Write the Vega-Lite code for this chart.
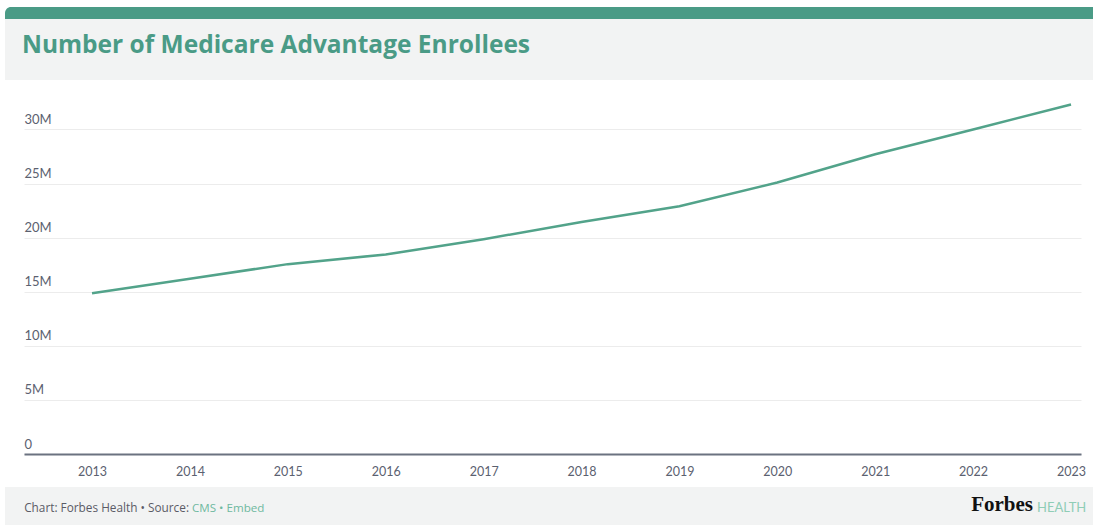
{
  "$schema": "https://vega.github.io/schema/vega-lite/v6.json",
  "background": "white",
  "padding": {"left": 5, "top": 7, "right": 0, "bottom": 0},
  "spacing": 0,
  "config": {
    "view": {"stroke": null},
    "font": "Lato",
    "title": {"anchor": "start", "frame": "group"}
  },
  "vconcat": [
    {
      "width": 1088,
      "height": 12,
      "data": {"values": [{}]},
      "mark": {"type": "rect", "color": "#4a9b86", "cornerRadiusTopLeft": 6}
    },
    {
      "width": 1088,
      "height": 61,
      "view": {"fill": "#f2f3f3"},
      "data": {"values": []},
      "mark": "point",
      "title": {
        "text": "Number of Medicare Advantage Enrollees",
        "anchor": "start",
        "dx": 17,
        "offset": -39,
        "fontSize": 24.5,
        "font": "Open Sans",
        "fontWeight": "bold",
        "color": "#4a9b86"
      }
    },
    {
      "spacing": 0,
      "hconcat": [
        {
          "width": 19,
          "height": 10,
          "data": {"values": []},
          "mark": "point"
        },
        {
          "width": 1057,
          "height": 374,
          "data": {
            "values": [
              {"year": 2013, "enrollees": 14850000},
              {"year": 2014, "enrollees": 16200000},
              {"year": 2015, "enrollees": 17550000},
              {"year": 2016, "enrollees": 18450000},
              {"year": 2017, "enrollees": 19850000},
              {"year": 2018, "enrollees": 21450000},
              {"year": 2019, "enrollees": 22900000},
              {"year": 2020, "enrollees": 25100000},
              {"year": 2021, "enrollees": 27700000},
              {"year": 2022, "enrollees": 30000000},
              {"year": 2023, "enrollees": 32300000}
            ]
          },
          "mark": {"type": "line", "color": "#52a38a", "strokeWidth": 2.5},
          "encoding": {
            "x": {
              "field": "year",
              "type": "quantitative",
              "scale": {"domain": [2012.305, 2023.102], "nice": false, "zero": false},
              "axis": {
                "values": [2013, 2014, 2015, 2016, 2017, 2018, 2019, 2020, 2021, 2022, 2023],
                "format": "d",
                "grid": false,
                "ticks": false,
                "tickSize": 0,
                "labelPadding": 11,
                "labelFlush": false,
                "domainColor": "#6b7280",
                "domainWidth": 2,
                "title": null,
                "labelFontSize": 12.5,
                "labelColor": "#5b6170"
              }
            },
            "y": {
              "field": "enrollees",
              "type": "quantitative",
              "scale": {"domain": [0, 34570000], "nice": false},
              "axis": {
                "values": [0, 5000000, 10000000, 15000000, 20000000, 25000000, 30000000],
                "labelExpr": "datum.value == 0 ? '0' : format(datum.value / 1000000, 'd') + 'M'",
                "domain": false,
                "ticks": false,
                "tickSize": 0,
                "labelAlign": "left",
                "labelPadding": 0,
                "labelBaseline": "alphabetic",
                "labelOffset": -6,
                "labelFontSize": 13,
                "labelColor": "#5b6170",
                "gridColor": "#ececec",
                "title": null
              }
            }
          }
        }
      ]
    },
    {
      "width": 1088,
      "height": 9,
      "data": {"values": []},
      "mark": "point"
    },
    {
      "spacing": 0,
      "hconcat": [
        {
          "width": 184,
          "height": 38,
          "view": {"fill": "#f2f3f3"},
          "data": {"values": []},
          "mark": "point",
          "title": {
            "text": "Chart: Forbes Health • Source:",
            "anchor": "end",
            "offset": -28,
            "fontSize": 11.8,
            "font": "Open Sans",
            "fontWeight": "normal",
            "color": "#5b5b66"
          }
        },
        {
          "width": 400,
          "height": 38,
          "view": {"fill": "#f2f3f3"},
          "data": {"values": []},
          "mark": "point",
          "title": {
            "text": "CMS • Embed",
            "anchor": "start",
            "dx": 3,
            "offset": -28,
            "fontSize": 11.6,
            "font": "Open Sans",
            "fontWeight": "normal",
            "color": "#6fb9a0"
          }
        },
        {
          "width": 446,
          "height": 38,
          "view": {"fill": "#f2f3f3"},
          "data": {"values": []},
          "mark": "point",
          "title": {
            "text": "Forbes",
            "anchor": "end",
            "dx": -2,
            "offset": -28,
            "fontSize": 21,
            "font": "Liberation Serif",
            "fontWeight": "bold",
            "color": "#111111"
          }
        },
        {
          "width": 58,
          "height": 38,
          "view": {"fill": "#f2f3f3"},
          "data": {"values": []},
          "mark": "point",
          "title": {
            "text": "HEALTH",
            "anchor": "start",
            "dx": 2,
            "offset": -28,
            "fontSize": 13,
            "fontWeight": "normal",
            "color": "#8fcdb6"
          }
        }
      ]
    }
  ]
}
